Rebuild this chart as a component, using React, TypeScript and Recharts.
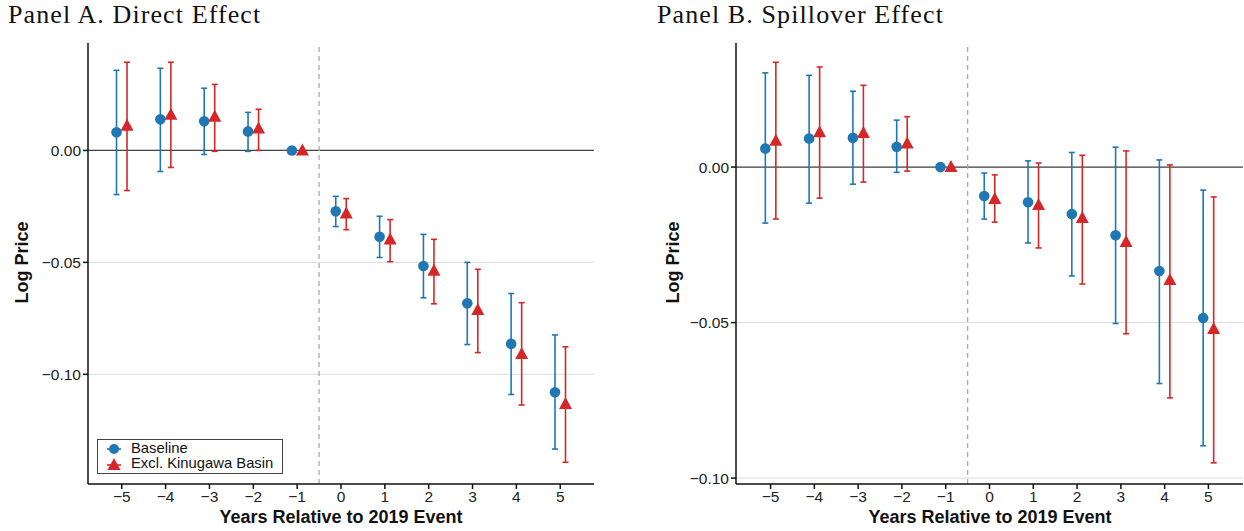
import React from 'react';
import { ComposedChart, Scatter, ErrorBar, XAxis, YAxis, CartesianGrid, ReferenceLine } from 'recharts';

const years = [-5, -4, -3, -2, -1, 0, 1, 2, 3, 4, 5];

// Panel A: direct effect
const directBase = [0.0081, 0.0139, 0.013, 0.0085, 0, -0.0272, -0.0386, -0.0516, -0.0683, -0.0864, -0.108];
const directBaseLo = [-0.0197, -0.0094, -0.0018, -0.0004, 0, -0.034, -0.0478, -0.0658, -0.0867, -0.109, -0.1334];
const directBaseHi = [0.0358, 0.0367, 0.0278, 0.017, 0, -0.0205, -0.0294, -0.0375, -0.05, -0.0639, -0.0824];
const directExcl = [0.011, 0.016, 0.015, 0.0098, 0, -0.0282, -0.0398, -0.0537, -0.0713, -0.0909, -0.1133];
const directExclLo = [-0.0179, -0.0076, -0.0004, 0, 0, -0.0354, -0.0497, -0.0685, -0.0903, -0.1137, -0.1393];
const directExclHi = [0.0394, 0.0394, 0.0295, 0.0184, 0, -0.0215, -0.0309, -0.0397, -0.0531, -0.068, -0.0877];

// Panel B: spillover effect
const spillBase = [0.006, 0.0092, 0.0094, 0.0065, 0, -0.0093, -0.0113, -0.0151, -0.0219, -0.0334, -0.0485];
const spillBaseLo = [-0.018, -0.0116, -0.0055, -0.0017, 0, -0.0167, -0.0244, -0.035, -0.0503, -0.0696, -0.0896];
const spillBaseHi = [0.0303, 0.0295, 0.0244, 0.0151, 0, -0.0019, 0.002, 0.0047, 0.0064, 0.0023, -0.0074];
const spillExcl = [0.0085, 0.0112, 0.011, 0.0076, 0, -0.0103, -0.0122, -0.0164, -0.0241, -0.0363, -0.0521];
const spillExclLo = [-0.0167, -0.01, -0.0048, -0.0013, 0, -0.0177, -0.026, -0.0376, -0.0536, -0.0742, -0.0951];
const spillExclHi = [0.0337, 0.0322, 0.0263, 0.0162, 0, -0.0025, 0.0013, 0.0038, 0.0052, 0.0007, -0.0096];

const yTicks = [-0.1, -0.05, 0];
const BLUE = '#1f77b4';
const RED = '#d62728';
const SANS = '"Liberation Sans", Arial, sans-serif';
const SERIF = '"Liberation Serif", "Times New Roman", serif';

const build = (est: number[], lo: number[], hi: number[], shift: number) =>
  years.map((yr, i) => ({ x: yr + shift, y: est[i], err: [est[i] - lo[i], hi[i] - est[i]] }));

const minus = (s: string) => s.replace('-', '\u2212');

const Dot = (props: any) => <circle cx={props.cx} cy={props.cy} r={5.3} fill={BLUE} />;
const Tri = (props: any) => {
  const { cx, cy } = props;
  return <polygon points={`${cx},${cy - 7} ${cx - 6.5},${cy + 5} ${cx + 6.5},${cy + 5}`} fill={RED} />;
};

function Panel({ base, baseLo, baseHi, excl, exclLo, exclHi, yDomain, xDomain, width, right }: any) {
  return (
    <ComposedChart width={width} height={531} margin={{ top: 43, right, bottom: 0, left: 0 }}>
      <CartesianGrid horizontal vertical={false} syncWithTicks stroke="#dcdcdc" />
      <XAxis
        type="number"
        dataKey="x"
        domain={xDomain}
        allowDataOverflow
        ticks={years}
        tickFormatter={(v) => minus(String(v))}
        height={47}
        tick={{ fill: '#222', fontSize: 15.5, fontFamily: SANS }}
        stroke="#111"
        tickSize={5}
        strokeWidth={1.5}
      />
      <YAxis
        type="number"
        dataKey="y"
        domain={yDomain}
        allowDataOverflow
        ticks={yTicks}
        tickFormatter={(v) => minus(v.toFixed(2))}
        width={88}
        tick={{ fill: '#222', fontSize: 15.5, fontFamily: SANS }}
        stroke="#111"
        tickSize={5}
        strokeWidth={1.5}
      />
      <ReferenceLine y={0} stroke="#444" strokeWidth={1.3} />
      <ReferenceLine x={-0.5} stroke="#aaa" strokeWidth={1.3} strokeDasharray="5 4" />
      <Scatter data={build(base, baseLo, baseHi, -0.12)} shape={Dot} isAnimationActive={false}>
        <ErrorBar dataKey="err" direction="y" width={3} stroke={BLUE} strokeWidth={1.6} />
      </Scatter>
      <Scatter data={build(excl, exclLo, exclHi, 0.12)} shape={Tri} isAnimationActive={false}>
        <ErrorBar dataKey="err" direction="y" width={3} stroke={RED} strokeWidth={1.6} />
      </Scatter>
    </ComposedChart>
  );
}

const titleStyle: React.CSSProperties = {
  position: 'absolute',
  top: 0,
  fontFamily: SERIF,
  fontSize: 26,
  letterSpacing: 1.1,
  color: '#111',
  whiteSpace: 'nowrap',
};
const xLabelStyle: React.CSSProperties = {
  position: 'absolute',
  top: 507,
  fontFamily: SANS,
  fontWeight: 'bold',
  fontSize: 18,
  color: '#111',
  textAlign: 'center',
  width: 400,
};
const yLabelStyle: React.CSSProperties = {
  position: 'absolute',
  top: 252,
  width: 120,
  textAlign: 'center',
  fontFamily: SANS,
  fontWeight: 'bold',
  fontSize: 18,
  color: '#111',
  transform: 'rotate(-90deg)',
};

export default function App() {
  return (
    <div style={{ position: 'fixed', left: 0, top: 0, width: 1244, height: 531, background: '#fff', overflow: 'hidden' }}>
      <div style={{ position: 'absolute', left: 0, top: 0 }}>
        <Panel
          base={directBase}
          baseLo={directBaseLo}
          baseHi={directBaseHi}
          excl={directExcl}
          exclLo={directExclLo}
          exclHi={directExclHi}
          yDomain={[-0.149, 0.048]}
          xDomain={[-5.77, 5.77]}
          width={600}
          right={6}
        />
      </div>
      <div style={{ position: 'absolute', left: 648, top: 0 }}>
        <Panel
          base={spillBase}
          baseLo={spillBaseLo}
          baseHi={spillBaseHi}
          excl={spillExcl}
          exclLo={spillExclLo}
          exclHi={spillExclHi}
          yDomain={[-0.1019, 0.0399]}
          xDomain={[-5.79, 5.79]}
          width={596}
          right={1}
        />
      </div>
      <div style={{ ...titleStyle, left: 8 }}>Panel A. Direct Effect</div>
      <div style={{ ...titleStyle, left: 657 }}>Panel B. Spillover Effect</div>
      <div style={{ ...xLabelStyle, left: 141 }}>Years Relative to 2019 Event</div>
      <div style={{ ...xLabelStyle, left: 790 }}>Years Relative to 2019 Event</div>
      <div style={{ ...yLabelStyle, left: -38 }}>Log Price</div>
      <div style={{ ...yLabelStyle, left: 613 }}>Log Price</div>
      <div
        style={{
          position: 'absolute',
          left: 97,
          top: 439,
          width: 184,
          height: 32,
          border: '1px solid #444',
          fontFamily: SANS,
          fontSize: 14.8,
          color: '#111',
          lineHeight: '15px',
          padding: '1px 0 0 0',
        }}
      >
        <div style={{ display: 'flex', alignItems: 'center' }}>
          <svg width={33} height={15}>
            <line x1={9} x2={23} y1={8} y2={8} stroke={BLUE} strokeWidth={1.6} />
            <circle cx={16} cy={8} r={5} fill={BLUE} />
          </svg>
          <span>Baseline</span>
        </div>
        <div style={{ display: 'flex', alignItems: 'center' }}>
          <svg width={33} height={15}>
            <line x1={9} x2={23} y1={9} y2={9} stroke={RED} strokeWidth={1.6} />
            <polygon points="16,2 9.5,14 22.5,14" fill={RED} />
          </svg>
          <span>Excl. Kinugawa Basin</span>
        </div>
      </div>
    </div>
  );
}
